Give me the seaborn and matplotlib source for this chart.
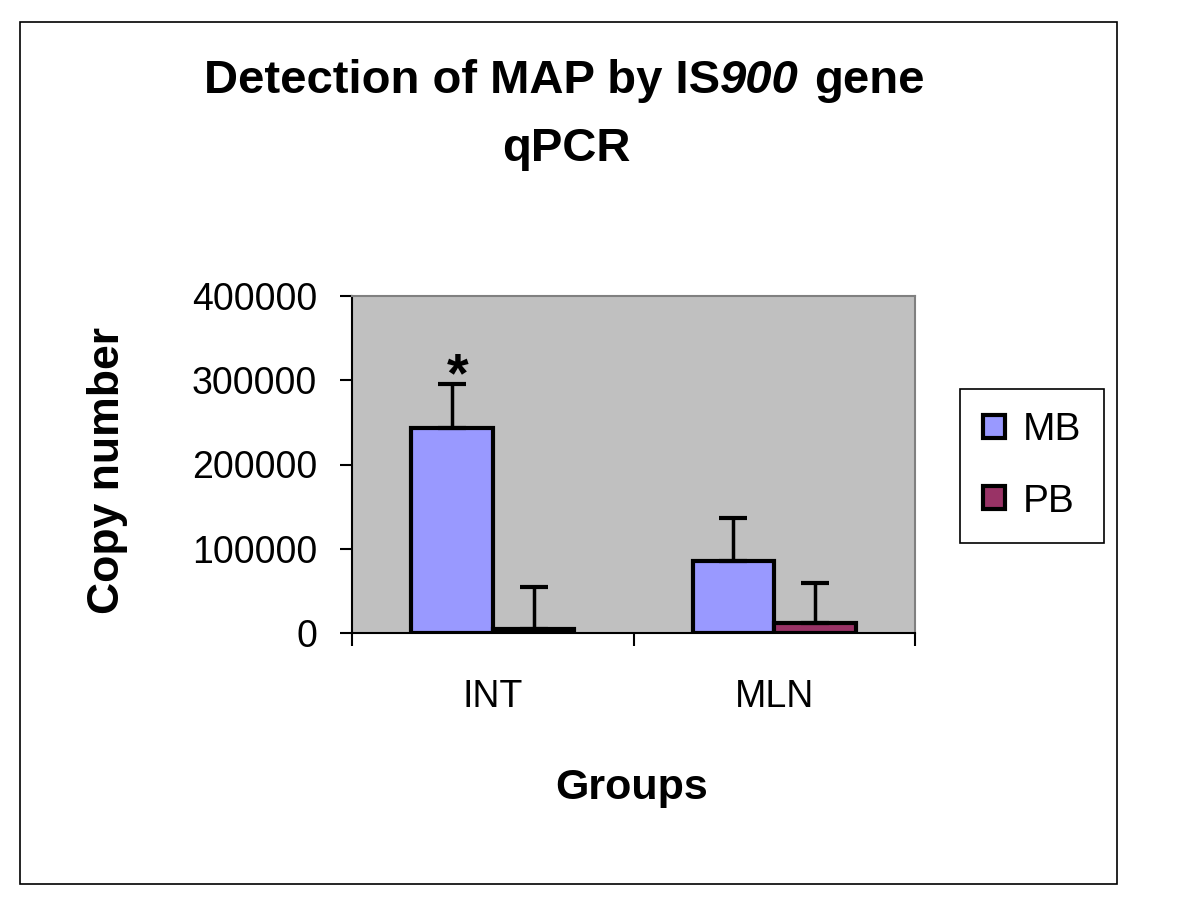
import numpy as np
import matplotlib
matplotlib.use('Agg')
import matplotlib.pyplot as plt
import matplotlib.ticker as mtick
from matplotlib.patches import Rectangle
import pandas as pd
import seaborn as sns

# values
groups = ['INT', 'MLN']
mb_values = [243000, 86000]
mb_errors = [52000, 51000]
pb_values = [5000, 12000]
pb_errors = [50000, 47000]
yticks = [0, 100000, 200000, 300000, 400000]

df = pd.DataFrame({
    'group': groups * 2,
    'type': ['MB'] * len(groups) + ['PB'] * len(groups),
    'copies': mb_values + pb_values,
})
errors = {'MB': mb_errors, 'PB': pb_errors}

sns.set_style('white')
plt.rcParams['font.family'] = ['Liberation Sans', 'DejaVu Sans']
plt.rcParams['text.color'] = 'black'
plt.rcParams['axes.labelcolor'] = 'black'
plt.rcParams['xtick.color'] = 'black'
plt.rcParams['ytick.color'] = 'black'

fig = plt.figure(figsize=(12, 8.99), dpi=100)
ax = fig.add_axes([352 / 1200, 1 - 633 / 899, (915 - 352) / 1200, (633 - 296) / 899])
ax.set_facecolor('#C0C0C0')

sns.barplot(data=df, x='group', y='copies', hue='type', palette=['#9999FF', '#993366'],
            saturation=1, width=0.58, edgecolor='black', linewidth=3, errorbar=None, ax=ax)

# one-sided error bars on top of each bar
for cont, lvl in zip(ax.containers, ['MB', 'PB']):
    xs = [p.get_x() + p.get_width() / 2 for p in cont]
    ys = [p.get_height() for p in cont]
    err = errors[lvl]
    ax.errorbar(xs, ys, yerr=[np.zeros(len(err)), err], fmt='none', ecolor='black',
                elinewidth=2.5, capsize=10, capthick=3, zorder=5)

# significance star over INT MB
star_x = ax.containers[0][0].get_x() + ax.containers[0][0].get_width() / 2
ax.annotate('*', (star_x, mb_values[0] + mb_errors[0]), xytext=(4, 5),
            textcoords='offset points', ha='center', va='center', fontsize=40, fontweight='bold')

ax.set_ylim(0, 400000)
ax.set_xlim(-0.5, 1.5)
ax.set_yticks(yticks)
ax.yaxis.set_major_formatter(mtick.StrMethodFormatter('{x:.0f}'))
ax.tick_params(axis='y', direction='out', length=9, width=1.5, pad=16, labelsize=27, left=True)

ax.set_xticks([-0.5, 0.5, 1.5])
ax.set_xticklabels([])
ax.set_xticks([0, 1], minor=True)
ax.set_xticklabels(groups, minor=True)
ax.tick_params(axis='x', which='major', direction='out', length=9, width=1.5, bottom=True)
ax.tick_params(axis='x', which='minor', length=0, pad=33, labelsize=27)

for side in ['left', 'bottom']:
    ax.spines[side].set_color('black')
    ax.spines[side].set_linewidth(1.5)
for side in ['top', 'right']:
    ax.spines[side].set_color('#808080')
    ax.spines[side].set_linewidth(1.5)

ax.set_xlabel('Groups', fontsize=31, fontweight='bold', va='center')
ax.xaxis.set_label_coords(632 / 1200, 1 - 788 / 899, transform=fig.transFigure)
ax.set_ylabel('Copy number', fontsize=32, fontweight='bold', va='center')
ax.yaxis.set_label_coords(108 / 1200, 1 - 470 / 899, transform=fig.transFigure)

handles, labels = ax.get_legend_handles_labels()
leg = ax.legend(handles, labels, loc='center', bbox_to_anchor=(1032 / 1200, 1 - 466 / 899),
                bbox_transform=fig.transFigure, fancybox=False, edgecolor='black', framealpha=1,
                fontsize=28, handlelength=0.55, handleheight=0.55, handletextpad=0.45,
                labelspacing=0.9, borderpad=0.6)
leg.get_frame().set_linewidth(1.2)

# title in pieces so that "900" can be italic
title_kw = dict(fontsize=34, fontweight='bold', va='center')
t1 = fig.text(204 / 1200, 1 - 81 / 899, 'Detection of MAP by IS', ha='left', **title_kw)
fig.canvas.draw()
bb = t1.get_window_extent()
t2 = fig.text(bb.x1 / 1200, 1 - 81 / 899, '900', ha='left', style='italic', **title_kw)
bb2 = t2.get_window_extent()
fig.text(bb2.x1 / 1200 + 0.013, 1 - 81 / 899, 'gene', ha='left', **title_kw)
fig.text(566 / 1200, 1 - 149 / 899, 'qPCR', ha='center', **title_kw)

fig.patches.append(Rectangle((20 / 1200, 1 - 884 / 899), 1097 / 1200, 862 / 899,
                             transform=fig.transFigure, fill=False, edgecolor='black', linewidth=1.2))

fig.savefig('out.png', dpi=100)
